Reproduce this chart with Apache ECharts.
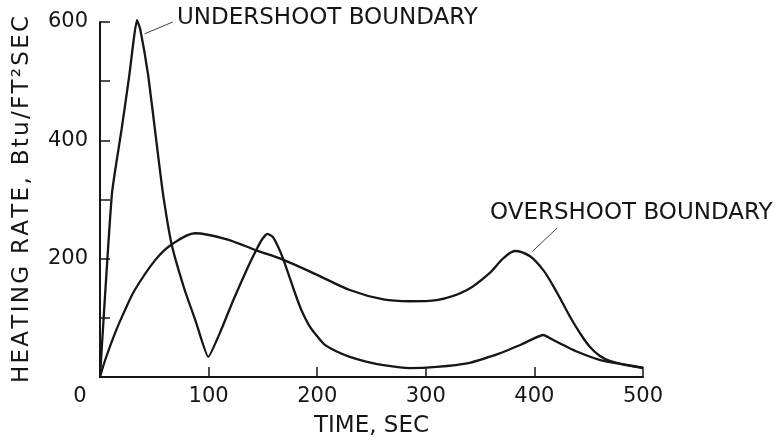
<!DOCTYPE html>
<html>
<head>
<meta charset="utf-8">
<script src="https://cdn.jsdelivr.net/npm/echarts@6/dist/echarts.min.js"></script>
<style>
  html, body { margin: 0; padding: 0; background: #fff; }
  #grafico { width: 775px; height: 443px; }
</style>
</head>
<body>
<div id="grafico"></div>
<script>
// valores (tempo em s, taxa em Btu/ft2 s)
let underTime = [0, 11, 20, 27, 31, 34, 37, 44.5, 52, 58, 66, 78, 88, 99.7,
  110.5, 123, 135, 144, 149, 154, 159, 164, 169, 178, 185, 194, 206, 218, 230, 245, 261, 285, 310, 338, 368,
  388, 408, 420, 439, 460, 479, 500]
let underRate = [0, 310, 420, 510, 570, 603, 588, 508, 397, 310, 224, 147, 95, 34,
  75, 131, 181, 215, 232, 242, 237, 220, 198, 150, 115, 83, 56, 43, 34, 26, 20, 15, 17, 23, 40,
  55, 71, 60, 43, 29, 22, 16]

let overTime = [0, 5, 14, 23, 32, 51, 66, 87.5, 116, 144, 169, 199.5, 230, 261, 285, 310, 338,
  359, 371, 382, 396, 408, 417, 426, 434, 442, 451, 460, 470, 485, 500]
let overRate = [0, 30, 75, 113, 147, 198, 224, 243, 233, 214, 198, 173, 147, 131, 128, 130, 147,
  176, 200, 213, 204, 181, 155, 125, 98, 74, 51, 36, 27, 20, 15]

let xTicks = [0, 100, 200, 300, 400, 500]
let yTicks = [0, 100, 200, 300, 400, 500, 600]

// linhas de chamada dos rótulos (em coordenadas dos eixos)
let underLeader = [[67, 600], [41, 580]]
let overLeader = [[421, 252], [398, 212]]

let fonte = "DejaVu Sans"
let cor = "#161616"

let myChart = echarts.init(document.getElementById("grafico"), null, { renderer: "canvas" })

let espacar = (txt) => txt.split("").join("\u200A")

let pares = (xs, ys) => xs.map((x, i) => [x, ys[i]])

let linhaChamada = (pts) => ({
  silent: true,
  symbol: "none",
  label: { show: false },
  lineStyle: { color: "#444", width: 1, type: "solid" },
  data: [[{ coord: pts[0] }, { coord: pts[1] }]],
})

let option = {
  animation: false,
  backgroundColor: "#fff",
  grid: {
    left: 100,
    right: 132,
    top: 22,
    bottom: 66,
  },
  xAxis: {
    type: "value",
    min: xTicks[0],
    max: xTicks[xTicks.length - 1],
    interval: 100,
    name: "TIME, SEC",
    nameLocation: "middle",
    nameGap: 38,
    nameTextStyle: { fontFamily: fonte, fontSize: 23, color: cor },
    axisLine: { lineStyle: { color: cor, width: 2 } },
    axisTick: { inside: true, length: 10, lineStyle: { color: cor, width: 1.5 } },
    axisLabel: {
      margin: 9,
      fontFamily: fonte,
      fontSize: 21,
      color: cor,
      formatter: (v) => v === 0 ? "{o|0}" : String(v),
      rich: {
        o: { fontFamily: fonte, fontSize: 21, color: cor, padding: [0, 40, 0, 0] },
      },
    },
    splitLine: { show: false },
  },
  yAxis: {
    type: "value",
    min: yTicks[0],
    max: yTicks[yTicks.length - 1],
    interval: 100,
    name: espacar("HEATING RATE, Btu/FT²SEC"),
    nameLocation: "middle",
    nameGap: 66,
    nameTextStyle: { fontFamily: fonte, fontSize: 23, color: cor },
    axisLine: { lineStyle: { color: cor, width: 2 } },
    axisTick: { inside: true, length: 10, lineStyle: { color: cor, width: 1.5 } },
    axisLabel: {
      margin: 12,
      fontFamily: fonte,
      fontSize: 21,
      color: cor,
      formatter: (v) => (v > 0 && v % 200 === 0) ? String(v) : "",
    },
    splitLine: { show: false },
  },
  series: [
    {
      name: "Undershoot boundary",
      type: "line",
      data: pares(underTime, underRate),
      smooth: 0.15,
      symbol: "none",
      clip: false,
      lineStyle: { color: cor, width: 2.3 },
      markLine: linhaChamada(underLeader),
    },
    {
      name: "Overshoot boundary",
      type: "line",
      data: pares(overTime, overRate),
      smooth: 0.3,
      symbol: "none",
      clip: false,
      lineStyle: { color: cor, width: 2.3 },
      markLine: linhaChamada(overLeader),
    },
  ],
  graphic: [
    {
      type: "text",
      x: 177,
      y: 18,
      style: { text: "UNDERSHOOT BOUNDARY", font: "23px " + fonte, fill: cor, verticalAlign: "middle" },
    },
    {
      type: "text",
      x: 490,
      y: 213,
      style: { text: "OVERSHOOT BOUNDARY", font: "23px " + fonte, fill: cor, verticalAlign: "middle" },
    },
  ],
}

myChart.setOption(option)
</script>
</body>
</html>
